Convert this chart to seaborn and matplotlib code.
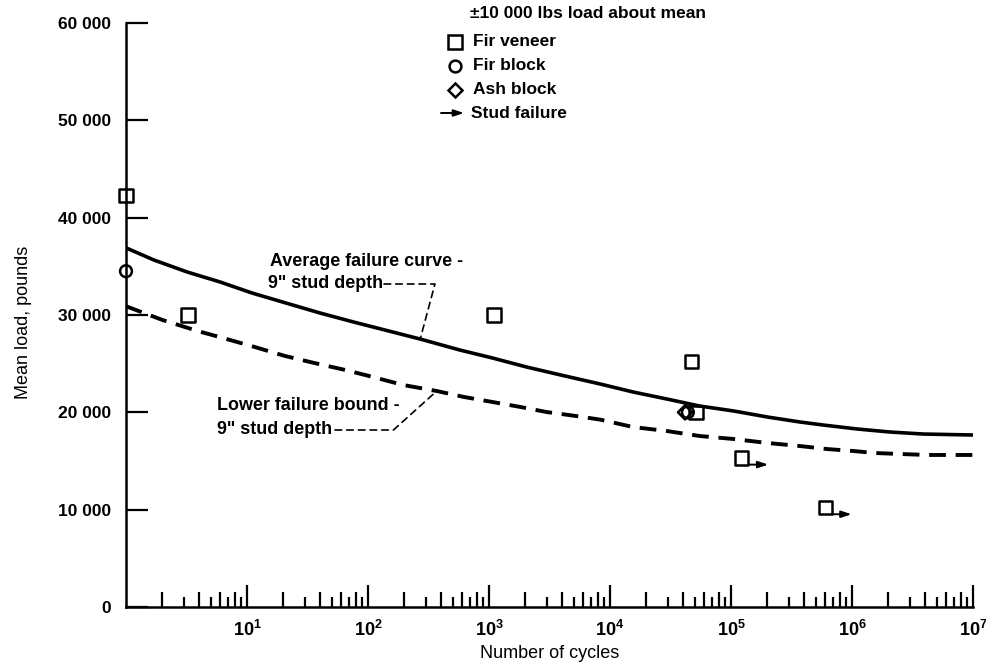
import matplotlib
matplotlib.use("Agg")
import matplotlib.pyplot as plt
import matplotlib.transforms as mtransforms
from matplotlib.lines import Line2D
import seaborn as sns

# Average failure curve, 9" stud depth
avg_cycles = [1, 1.7, 3.2, 6, 11, 21, 40, 76, 270, 575, 1070, 2040, 3900,
              8300, 15500, 29500, 55000, 105000, 200000, 370000, 575000,
              1.1e6, 2.05e6, 3.9e6, 1e7]
avg_load = [36900, 35650, 34420, 33390, 32260, 31230, 30210, 29280, 27530,
            26400, 25580, 24660, 23840, 22910, 22090, 21370, 20650, 20140,
            19520, 19010, 18700, 18290, 17980, 17770, 17670]

# Lower failure bound, 9" stud depth
low_cycles = [1, 2, 3.9, 6.8, 11.6, 20.6, 36.5, 65, 110, 195, 370, 620, 1070,
              1820, 3000, 5400, 8300, 15500, 29500, 55000, 105000, 200000,
              370000, 620000, 1.02e6, 1.55e6, 2.5e6, 4.2e6, 1e7]
low_load = [30900, 29490, 28360, 27530, 26710, 25790, 25050, 24350, 23630,
            22810, 22190, 21580, 21060, 20550, 20030, 19600, 19250, 18490,
            18080, 17570, 17260, 16850, 16540, 16230, 16030, 15820, 15720,
            15620, 15620]

# Test specimens
veneer_cycles = [1, 3.25, 1100, 47500, 51300, 123000, 600000]
veneer_load = [42300, 30000, 30000, 25200, 20000, 15300, 10200]
fir_block_cycles = [1, 44000]
fir_block_load = [34500, 20000]
ash_block_cycles = [41700]
ash_block_load = [20000]
# specimens ending in stud failure
stud_cycles = [123000, 600000]
stud_load = [15300, 10200]

y_ticks = [0, 10000, 20000, 30000, 40000, 50000, 60000]
y_tick_labels = ["0", "10 000", "20 000", "30 000", "40 000", "50 000", "60 000"]
x_ticks = [1e1, 1e2, 1e3, 1e4, 1e5, 1e6, 1e7]
x_tick_labels = [r"$10^{1}$", r"$10^{2}$", r"$10^{3}$", r"$10^{4}$",
                 r"$10^{5}$", r"$10^{6}$", r"$10^{7}$"]

legend_title = "\u00b110 000 lbs load about mean"
legend_labels = ["Fir veneer", "Fir block", "Ash block", "Stud failure"]

sns.set_style("ticks", {"axes.edgecolor": "black", "xtick.color": "black",
                        "ytick.color": "black", "text.color": "black",
                        "axes.labelcolor": "black"})
plt.rcParams["font.family"] = ["Liberation Sans", "DejaVu Sans"]
plt.rcParams["mathtext.fontset"] = "custom"
plt.rcParams["mathtext.rm"] = "Liberation Sans:bold"
plt.rcParams["mathtext.bf"] = "Liberation Sans:bold"
plt.rcParams["mathtext.default"] = "bf"

W, H = 987, 670
fig = plt.figure(figsize=(W / 100, H / 100), dpi=100)
ax = fig.add_axes([126 / W, 1 - 607 / H, (973 - 126) / W, (607 - 23) / H])
ax.set_xscale("log")

def fx(px):
    return px / W

def fy(py):
    return 1 - py / H

# curves
sns.lineplot(x=avg_cycles, y=avg_load, ax=ax, color="black", lw=2.6,
             estimator=None, sort=False)
sns.lineplot(x=low_cycles, y=low_load, ax=ax, color="black", lw=2.8,
             estimator=None, sort=False, linestyle=(0, (4.3, 2.5)))

# specimens
mk = dict(facecolor="none", edgecolor="black", linewidth=1.8, zorder=4,
          clip_on=False, ax=ax)
sns.scatterplot(x=veneer_cycles, y=veneer_load, marker="s", s=90, **mk)
sns.scatterplot(x=fir_block_cycles, y=fir_block_load, marker="o", s=72, **mk)
sns.scatterplot(x=ash_block_cycles, y=ash_block_load, marker="D", s=52, **mk)

# stud-failure arrows leaving the lower right corner of the square
for c, l in zip(stud_cycles, stud_load):
    tail = mtransforms.offset_copy(ax.transData, fig=fig, x=4.7, y=-4.7, units="points")
    head = mtransforms.offset_copy(ax.transData, fig=fig, x=19, y=-4.7, units="points")
    ax.annotate("", xy=(c, l), xycoords=head, xytext=(c, l), textcoords=tail,
                arrowprops=dict(arrowstyle="-|>,head_length=0.6,head_width=0.2",
                                color="black", lw=1.4, shrinkA=0, shrinkB=0))

ax.set_xlim(1, 1e7)
ax.set_ylim(0, 60000)
ax.set_yticks(y_ticks, y_tick_labels)
ax.set_xticks(x_ticks, x_tick_labels)
minor_mult = [2, 3, 4, 5, 6, 7, 8, 9]
minor_locs = [m * 10 ** d for d in range(7) for m in minor_mult]
ax.set_xticks(minor_locs, minor=True)
ax.set_xticklabels([], minor=True)

for side in ("top", "right"):
    ax.spines[side].set_visible(False)
for side in ("left", "bottom"):
    ax.spines[side].set_linewidth(1.8)

ax.tick_params(axis="y", which="major", direction="in", length=16, width=1.6,
               pad=11, labelsize=12.5)
for lab in ax.get_yticklabels():
    lab.set_fontweight("bold")
ax.tick_params(axis="x", which="major", direction="in", length=16, width=1.6,
               pad=9, labelsize=13)
ax.tick_params(axis="x", which="minor", direction="in", length=11, width=1.6)
for loc, tick in zip(minor_locs, ax.xaxis.get_minor_ticks(len(minor_locs))):
    mult = round(loc / 10 ** int(f"{loc:e}".split("e")[1]))
    tick.tick1line.set_markersize(11 if mult % 2 == 0 else 7)

ax.set_xlabel("Number of cycles", fontsize=13)
ax.xaxis.set_label_coords(0.5, -0.065)
ax.set_ylabel("Mean load, pounds", fontsize=13)
ax.yaxis.set_label_coords(-0.111, 0.488)

# curve callouts
txt = dict(fontsize=12.5, fontweight="bold", va="center", ha="left")
call = dict(txt, fontsize=12.9)
fig.text(fx(270), fy(262), "Average failure curve -", **call)
fig.text(fx(268), fy(284), '9" stud depth', **call)
fig.text(fx(217), fy(406), "Lower failure bound -", **call)
fig.text(fx(217), fy(430), '9" stud depth', **call)
leader = dict(arrowstyle="-", color="black", lw=1.2, ls=(0, (4, 3)),
              shrinkA=0, shrinkB=0)
i_avg = avg_cycles.index(270)
i_low = low_cycles.index(370)
ax.annotate("", xy=(avg_cycles[i_avg], avg_load[i_avg]), xycoords="data",
            xytext=(fx(384), fy(284)), textcoords="figure fraction",
            arrowprops=dict(connectionstyle="angle,angleA=0,angleB=75,rad=0", **leader))
ax.annotate("", xy=(low_cycles[i_low], low_load[i_low]), xycoords="data",
            xytext=(fx(335), fy(430)), textcoords="figure fraction",
            arrowprops=dict(connectionstyle="angle,angleA=0,angleB=42,rad=0", **leader))

# key
fig.text(fx(470), fy(14), legend_title, **txt)
key_y = [42, 66, 90, 113]
key_marks = [("s", 9.5), ("o", 8.5), ("D", 7.2)]
for (m, ms), yy, lab in zip(key_marks, key_y, legend_labels):
    fig.add_artist(Line2D([fx(455)], [fy(yy)], transform=fig.transFigure, marker=m,
                          ms=ms, mfc="none", mec="black", mew=1.8, ls="none"))
    fig.text(fx(473), fy(yy), lab, **txt)
ax.annotate("", xy=(fx(464), fy(key_y[3])), xycoords="figure fraction",
            xytext=(fx(441), fy(key_y[3])), textcoords="figure fraction",
            arrowprops=dict(arrowstyle="-|>,head_length=0.6,head_width=0.2",
                            color="black", lw=1.4, shrinkA=0, shrinkB=0))
fig.text(fx(471), fy(key_y[3]), legend_labels[3], **txt)

fig.savefig("out.png", dpi=100)
